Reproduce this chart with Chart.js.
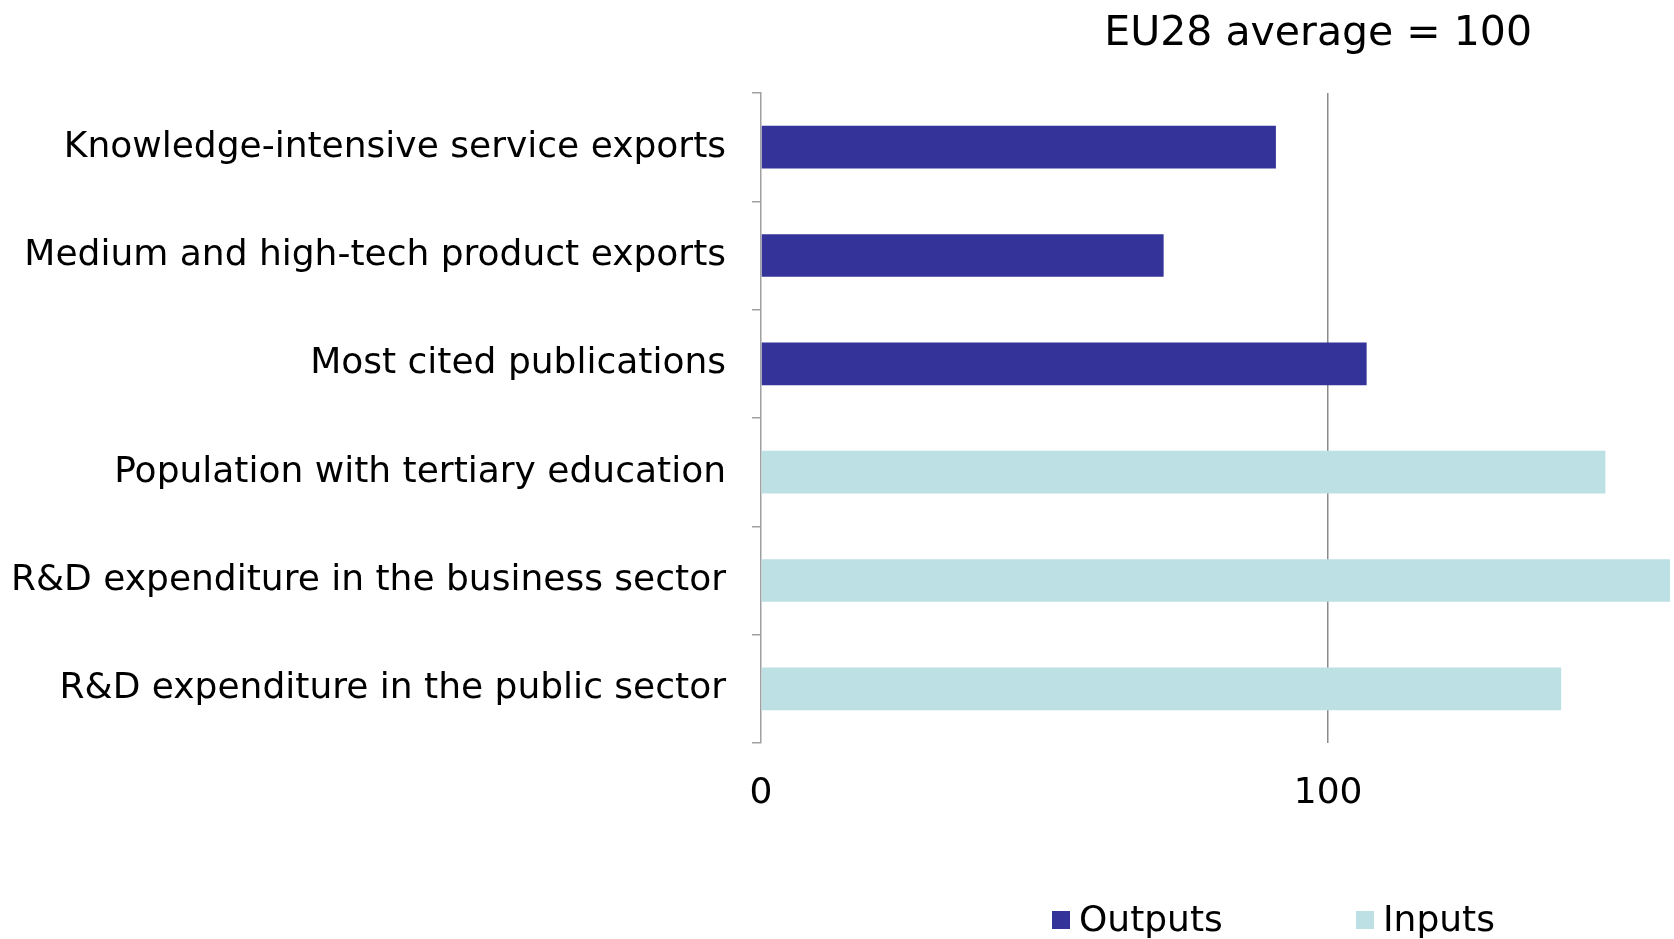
<!DOCTYPE html>
<html>
<head>
<meta charset="utf-8">
<title>EU28 average = 100</title>
<script src="https://cdn.jsdelivr.net/npm/chart.js@4/dist/chart.umd.min.js"></script>
<style>
    html, body { margin: 0; padding: 0; background: #ffffff; }
    #wrap { width: 1674px; height: 939px; }
</style>
</head>
<body>
<div id="wrap"><canvas id="myChart" width="1674" height="939"></canvas></div>
<script>
// Du lieu doc tu hinh
const categories = [
    'Knowledge-intensive service exports',
    'Medium and high-tech product exports',
    'Most cited publications',
    'Population with tertiary education',
    'R&D expenditure in the business sector',
    'R&D expenditure in the public sector'
];
const outputs = [90.8, 71.0, 106.8, null, null, null];
const inputs = [null, null, null, 148.9, 160.3, 141.1];
const xTicks = [0, 100];
const seriesNames = ['Outputs', 'Inputs'];
const titleText = 'EU28 average = 100';

const FONT = "'DejaVu Sans', Verdana, sans-serif";
const OUT_COLOR = '#333399';
const IN_COLOR = '#bce0e3';

// Ve tieu de va chu thich bang canvas
const extraText = {
    id: 'extraText',
    afterDraw(chart) {
        let ctx = chart.ctx;
        ctx.save();
        ctx.fillStyle = '#000000';
        ctx.font = '41px ' + FONT;
        ctx.textAlign = 'right';
        ctx.textBaseline = 'middle';
        ctx.fillText(titleText, 1532, 34);

        ctx.font = '36px ' + FONT;
        ctx.textAlign = 'left';
        let items = [
            {x: 1052},
            {x: 1356}
        ];
        items.forEach(function(it, i) {
            ctx.fillStyle = chart.data.datasets[i].backgroundColor;
            ctx.fillRect(it.x, 911, 18, 18);
            ctx.fillStyle = '#000000';
            ctx.fillText(chart.data.datasets[i].label, it.x + 27, 922);
        });
        ctx.restore();
    }
};

function drawChart(canvasId) {
    const data = {
        labels: categories,
        datasets: [{
            label: seriesNames[0],
            data: outputs,
            backgroundColor: OUT_COLOR,
            borderWidth: 0
        }, {
            label: seriesNames[1],
            data: inputs,
            backgroundColor: IN_COLOR,
            borderWidth: 0
        }]
    };

    const config = {
        type: 'bar',
        data: data,
        options: {
            indexAxis: 'y',
            responsive: false,
            animation: false,
            layout: { padding: { top: 93, right: 0, bottom: 0, left: 0 } },
            datasets: {
                bar: { categoryPercentage: 1, barPercentage: 0.394 }
            },
            plugins: {
                legend: { display: false },
                title: { display: false },
                tooltip: { enabled: false }
            },
            scales: {
                x: {
                    stacked: true,
                    min: 0,
                    max: 161,
                    afterBuildTicks: function(scale) {
                        scale.ticks = xTicks.map(function(v) { return {value: v}; });
                    },
                    afterFit: function(scale) {
                        scale.height = 196;
                    },
                    border: { display: false },
                    grid: {
                        drawTicks: false,
                        lineWidth: 1.5,
                        color: function(c) {
                            return c.tick && c.tick.value === 100 ? '#8a8a8a' : 'rgba(0,0,0,0)';
                        }
                    },
                    ticks: {
                        padding: 29,
                        color: '#000000',
                        font: { family: FONT, size: 36 },
                        maxRotation: 0
                    }
                },
                y: {
                    stacked: true,
                    afterFit: function(scale) {
                        scale.width = 761;
                    },
                    border: { display: true, color: '#a0a0a0', width: 1.5 },
                    grid: {
                        offset: true,
                        drawOnChartArea: false,
                        drawTicks: true,
                        tickLength: 9,
                        tickColor: '#a0a0a0',
                        lineWidth: 1.5
                    },
                    ticks: {
                        padding: 26,
                        color: '#000000',
                        font: { family: FONT, size: 36 }
                    }
                }
            }
        },
        plugins: [extraText]
    };

    let context = document.getElementById(canvasId).getContext('2d');
    new Chart(context, config);
}

drawChart('myChart');
</script>
</body>
</html>
